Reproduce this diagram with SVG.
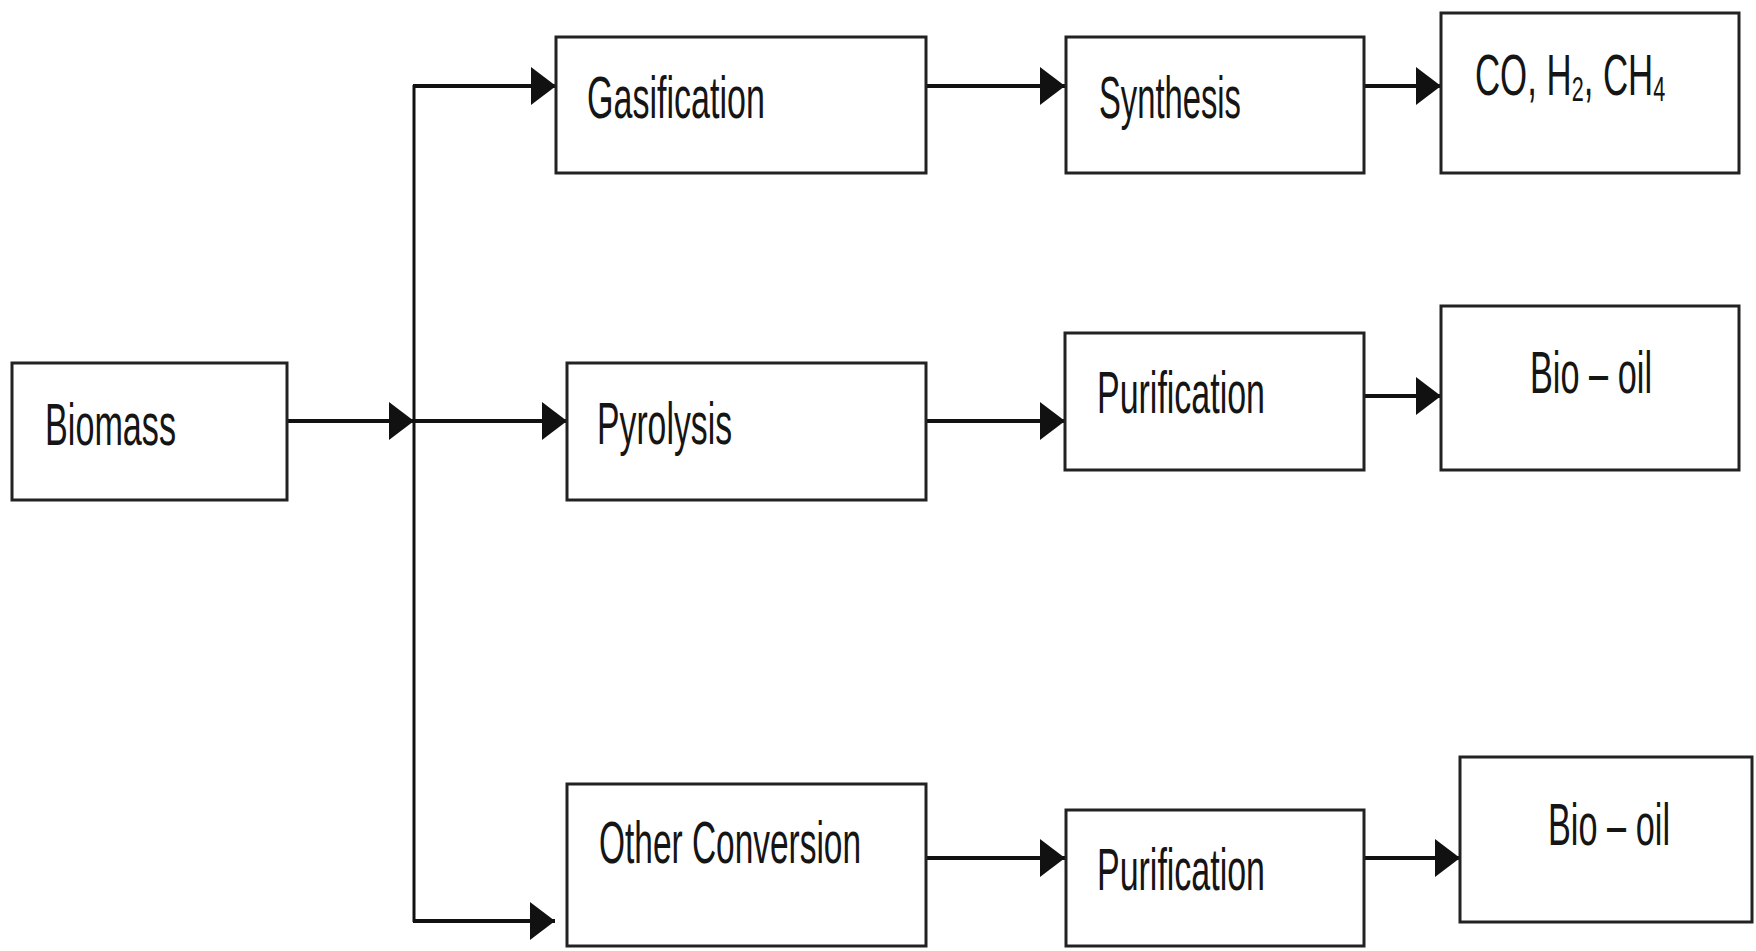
<svg xmlns="http://www.w3.org/2000/svg" width="1756" height="951" viewBox="0 0 1756 951">
<style>
.box{fill:#fff;stroke:#222;stroke-width:3}
.lbl{font-family:"Liberation Sans",Arial,sans-serif;font-size:60px;fill:#151515}
.con{fill:none;stroke:#111;stroke-width:4}
</style>
<defs>
<marker id="ah" markerUnits="userSpaceOnUse" markerWidth="26" markerHeight="38" refX="25" refY="19" orient="auto">
<path d="M0,0 L25,19 L0,38 Z" fill="#111"/>
</marker>
</defs>
<rect width="1756" height="951" fill="#fff"/>
<g id="connectors">
<path class="con" d="M414,85 V922" style="stroke-width:3"/>
<path class="con" d="M287,421 H414" marker-end="url(#ah)"/>
<path class="con" d="M413,86 H556" marker-end="url(#ah)"/>
<path class="con" d="M414,421 H567" marker-end="url(#ah)"/>
<path class="con" d="M413,921 H555" marker-end="url(#ah)"/>
<path class="con" d="M926,86 H1065" marker-end="url(#ah)"/>
<path class="con" d="M1364,86 H1441" marker-end="url(#ah)"/>
<path class="con" d="M926,421 H1065" marker-end="url(#ah)"/>
<path class="con" d="M1364,396 H1441" marker-end="url(#ah)"/>
<path class="con" d="M926,858 H1065" marker-end="url(#ah)"/>
<path class="con" d="M1364,858 H1460" marker-end="url(#ah)"/>
</g>
<g id="biomass">
<rect class="box" x="12" y="363" width="275" height="137"/>
<text class="lbl" x="45" y="445" textLength="131" lengthAdjust="spacingAndGlyphs">Biomass</text>
</g>
<g id="gasification">
<rect class="box" x="556" y="37" width="370" height="136"/>
<text class="lbl" x="587" y="118" textLength="178" lengthAdjust="spacingAndGlyphs">Gasification</text>
</g>
<g id="synthesis">
<rect class="box" x="1066" y="37" width="298" height="136"/>
<text class="lbl" x="1099" y="118" textLength="142" lengthAdjust="spacingAndGlyphs">Synthesis</text>
</g>
<g id="products-gas">
<rect class="box" x="1441" y="13" width="298" height="160"/>
<text class="lbl" transform="translate(1475,95) scale(0.6,1)" style="font-size:58px">CO, H<tspan style="font-size:36px" dy="6">2</tspan><tspan dy="-6">, CH</tspan><tspan style="font-size:36px" dy="6">4</tspan></text>
</g>
<g id="pyrolysis">
<rect class="box" x="567" y="363" width="359" height="137"/>
<text class="lbl" x="597" y="444" textLength="135" lengthAdjust="spacingAndGlyphs">Pyrolysis</text>
</g>
<g id="purification-1">
<rect class="box" x="1065" y="333" width="299" height="137"/>
<text class="lbl" x="1097" y="413" textLength="168" lengthAdjust="spacingAndGlyphs">Purification</text>
</g>
<g id="biooil-1">
<rect class="box" x="1441" y="306" width="298" height="164"/>
<text class="lbl" x="1530" y="393" textLength="122" lengthAdjust="spacingAndGlyphs">Bio – oil</text>
</g>
<g id="other-conversion">
<rect class="box" x="567" y="784" width="359" height="162"/>
<text class="lbl" x="599" y="863" textLength="262" lengthAdjust="spacingAndGlyphs">Other Conversion</text>
</g>
<g id="purification-2">
<rect class="box" x="1066" y="810" width="298" height="136"/>
<text class="lbl" x="1097" y="890" textLength="168" lengthAdjust="spacingAndGlyphs">Purification</text>
</g>
<g id="biooil-2">
<rect class="box" x="1460" y="757" width="292" height="165"/>
<text class="lbl" x="1548" y="845" textLength="122" lengthAdjust="spacingAndGlyphs">Bio – oil</text>
</g>
</svg>
